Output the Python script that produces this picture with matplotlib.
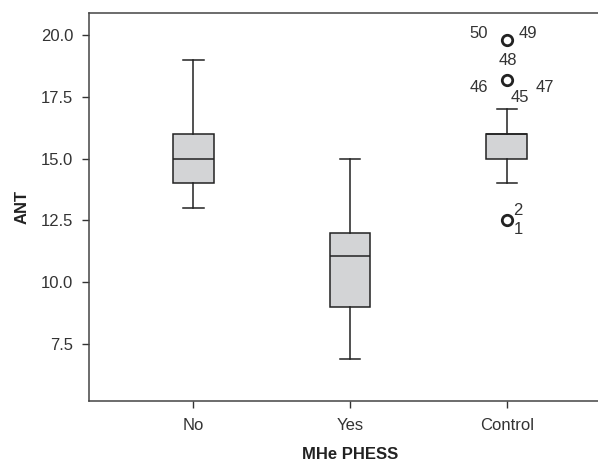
import matplotlib
matplotlib.use("Agg")
import matplotlib.pyplot as plt

plt.rcParams["font.family"] = ["Liberation Sans", "DejaVu Sans"]

groups = ["No", "Yes", "Control"]
q1 = [14.0, 9.0, 15.0]
medians = [15.0, 11.05, 16.0]
q3 = [16.0, 12.0, 16.0]
whisker_low = [13.0, 6.9, 14.0]
whisker_high = [19.0, 15.0, 17.0]

# outliers of the control group with their case numbers
outlier_values = [12.5, 18.2, 19.8]
outlier_labels = [
    [("2", (4.3, 7)), ("1", (5, -6.8))],
    [("48", (-5.8, 13.7)), ("46", (-27, -5.8)), ("47", (21, -5.8)), ("45", (3, -13))],
    [("50", (-26.6, 5)), ("49", (8.6, 5))],
]

line_col = "#222222"
box_col = "#d3d4d6"

stats = []
for i, name in enumerate(groups):
    stats.append({
        "label": name,
        "q1": q1[i],
        "med": medians[i],
        "q3": q3[i],
        "whislo": whisker_low[i],
        "whishi": whisker_high[i],
        "fliers": outlier_values if name == "Control" else [],
    })

fig = plt.figure(figsize=(5.98, 4.68), dpi=100)
ax = fig.add_axes([0.148, 0.143, 0.875, 0.829])

ax.bxp(
    stats,
    positions=[1, 2, 3],
    widths=0.26,
    patch_artist=True,
    boxprops=dict(facecolor=box_col, edgecolor=line_col, linewidth=1.1),
    medianprops=dict(color=line_col, linewidth=1.1),
    whiskerprops=dict(color=line_col, linewidth=1.1),
    capprops=dict(color=line_col, linewidth=1.1),
    flierprops=dict(marker="o", markersize=7.5, markerfacecolor="none",
                    markeredgecolor=line_col, markeredgewidth=2.0),
)

for val, labs in zip(outlier_values, outlier_labels):
    for txt, off in labs:
        ax.annotate(txt, xy=(3, val), xytext=off, textcoords="offset points",
                    ha="left", va="center", fontsize=12, color="#333333")

ax.set_xlim(0.33, 3.67)
ax.set_ylim(5.19, 20.89)
ax.set_yticks([7.5, 10.0, 12.5, 15.0, 17.5, 20.0])
ax.set_yticklabels(["7.5", "10.0", "12.5", "15.0", "17.5", "20.0"])
ax.set_xticks([1, 2, 3])
ax.set_xticklabels(groups)
ax.tick_params(labelsize=12, colors="#333333", length=5, width=1)
ax.tick_params(axis="y", pad=6)
ax.tick_params(axis="x", pad=7)
for s in ax.spines.values():
    s.set_color("#444444")
    s.set_linewidth(1.1)

ax.set_ylabel("ANT", fontsize=12, fontweight="bold", color="#222222", labelpad=8)
ax.set_xlabel("MHe PHESS", fontsize=12, fontweight="bold", color="#222222", labelpad=10)

fig.savefig("out.png", dpi=100)
